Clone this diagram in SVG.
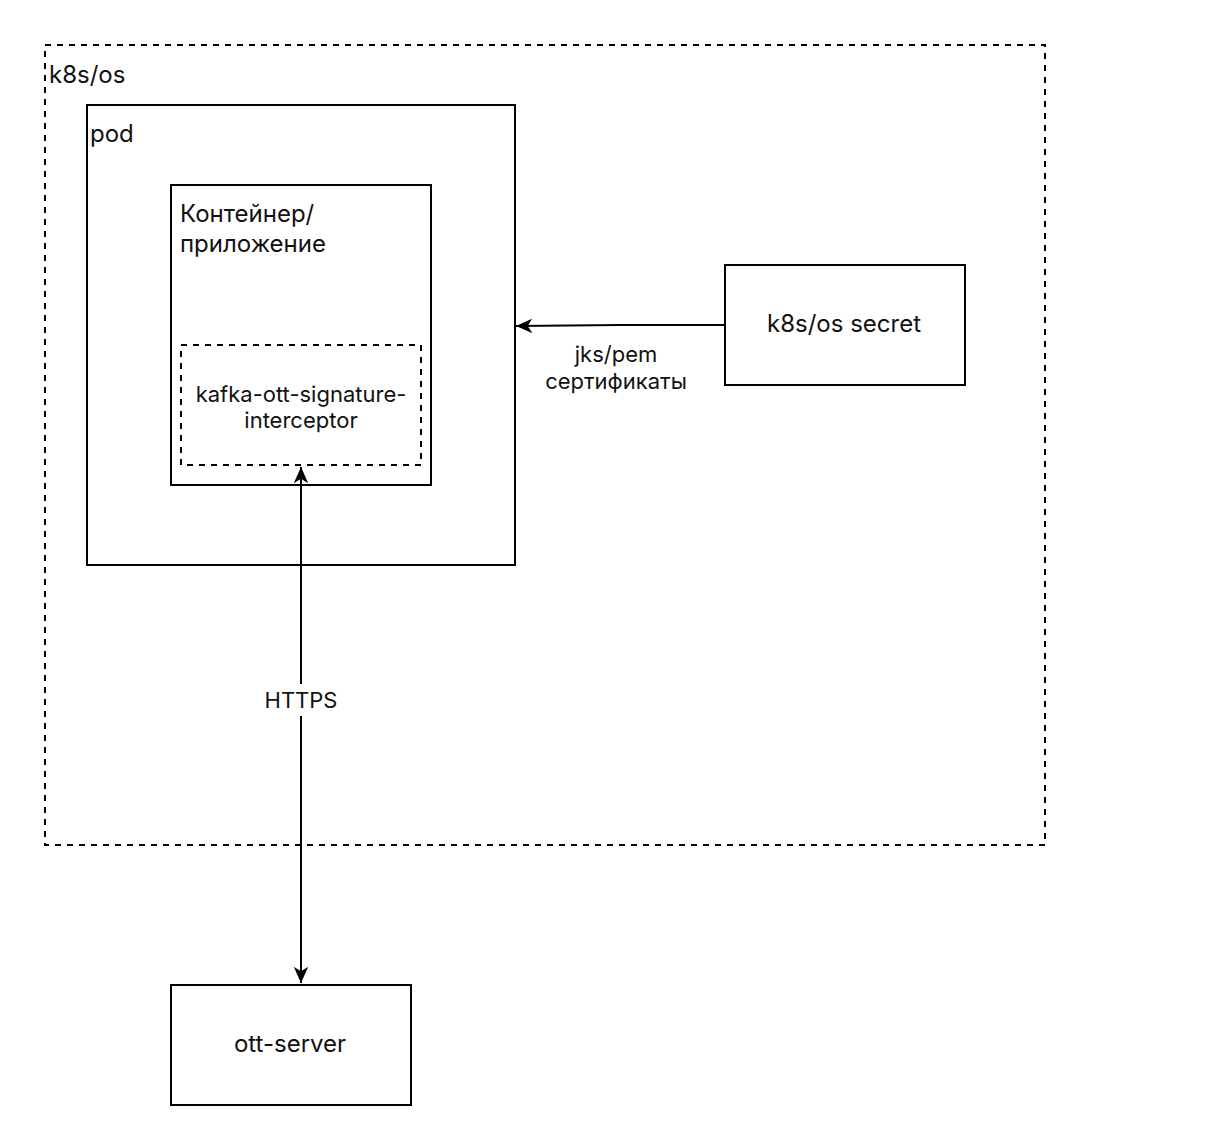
<svg xmlns="http://www.w3.org/2000/svg" width="1216" height="1138" viewBox="0 0 1216 1138">
<defs>
<style>
.box{fill:#fff;stroke:#000;stroke-width:2}
.dash{fill:none;stroke:#000;stroke-width:2;stroke-dasharray:6 6}
.t{font-family:Inter,"Noto Sans",sans-serif;fill:#111;font-size:24px}
.s{font-size:22px}
.c{text-anchor:middle}
.ln{fill:none;stroke:#000;stroke-width:2}
</style>
<marker id="ah2" viewBox="0 0 20 20" refX="18" refY="10" markerWidth="18" markerHeight="18" markerUnits="userSpaceOnUse" orient="auto-start-reverse">
<path d="M0,2 L18,10 L0,18 L5,10 Z" fill="#000"/>
</marker>
</defs>
<rect width="1216" height="1138" fill="#fff"/>
<g id="k8s-os">
<rect class="dash" x="45" y="45" width="1000" height="800"/>
<text class="t" x="49" y="83">k8s/os</text>
</g>
<g id="pod">
<rect class="box" x="87" y="105" width="428" height="460"/>
<text class="t" x="90" y="142">pod</text>
</g>
<g id="container">
<rect class="box" x="171" y="185" width="260" height="300"/>
<text class="t" x="180" y="222">Контейнер/</text>
<text class="t" x="180" y="252">приложение</text>
</g>
<g id="interceptor">
<rect class="dash" x="181" y="345" width="240" height="120"/>
<text class="t s c" x="301" y="402">kafka-ott-signature-</text>
<text class="t s c" x="301" y="428">interceptor</text>
</g>
<g id="secret">
<rect class="box" x="725" y="265" width="240" height="120"/>
<text class="t c" x="844" y="332">k8s/os secret</text>
</g>
<g id="ott-server">
<rect class="box" x="171" y="985" width="240" height="120"/>
<text class="t c" x="290" y="1052">ott-server</text>
</g>
<g id="connectors">
<path class="ln" d="M725,325 L620,325 L516,326" marker-end="url(#ah2)"/>
<text class="t s c" x="616" y="362">jks/pem</text>
<text class="t s c" x="616" y="389">сертификаты</text>
<path class="ln" d="M301,467 L301,983" marker-start="url(#ah2)" marker-end="url(#ah2)"/>
<rect x="258" y="684" width="86" height="32" fill="#fff"/>
<text class="t s c" x="301" y="708">HTTPS</text>
</g>
</svg>
